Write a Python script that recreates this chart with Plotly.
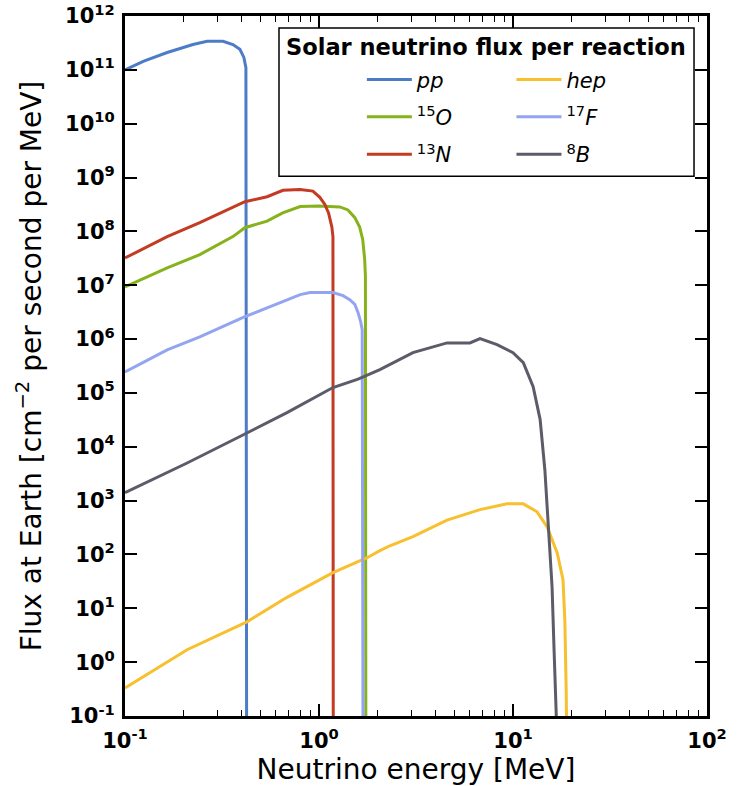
import plotly.graph_objects as go

# ---------------- data ----------------
pp_E = [0.100, 0.125, 0.165, 0.224, 0.265, 0.320, 0.360, 0.391, 0.410, 0.420, 0.424]
pp_F = [1.0e11, 1.45e11, 2.1e11, 2.95e11, 3.4e11, 3.4e11, 2.95e11, 2.4e11, 1.7e11, 1.1e11, 1e-3]

o15_E = [0.100, 0.165, 0.243, 0.360, 0.415, 0.540, 0.650, 0.800, 1.000, 1.280, 1.410, 1.530, 1.620, 1.680, 1.720, 1.735, 1.745]
o15_F = [9.3e6, 2.1e7, 3.7e7, 8.0e7, 1.17e8, 1.55e8, 2.2e8, 2.9e8, 2.95e8, 2.85e8, 2.5e8, 1.8e8, 1.2e8, 7.1e7, 3.0e7, 1.45e7, 1e-3]

n13_E = [0.100, 0.165, 0.243, 0.360, 0.415, 0.540, 0.652, 0.798, 0.930, 1.010, 1.070, 1.120, 1.165, 1.180, 1.185]
n13_F = [3.2e7, 8.0e7, 1.45e8, 2.75e8, 3.55e8, 4.4e8, 5.8e8, 6.0e8, 5.6e8, 4.3e8, 3.2e8, 2.2e8, 1.2e8, 8.0e7, 1e-3]

hep_E = [0.100, 0.209, 0.425, 0.684, 1.180, 1.770, 2.060, 2.320, 3.050, 4.570, 6.760, 9.310, 11.30, 13.30, 15.00, 16.90, 18.10, 18.50, 18.80, 19.00]
hep_F = [0.33, 1.7, 5.6, 16.0, 46.0, 87.0, 118.0, 145.0, 214.0, 435.0, 680.0, 870.0, 870.0, 620.0, 325.0, 107.0, 34.0, 6.0, 0.3, 0.01]

f17_E = [0.100, 0.165, 0.243, 0.360, 0.415, 0.540, 0.800, 0.900, 1.180, 1.330, 1.440, 1.530, 1.590, 1.640, 1.670, 1.690]
f17_F = [2.45e5, 6.3e5, 1.1e6, 2.1e6, 2.6e6, 3.8e6, 6.7e6, 7.3e6, 7.3e6, 6.4e6, 5.4e6, 4.4e6, 3.1e6, 2.1e6, 1.5e6, 1e-3]

b8_E = [0.100, 0.209, 0.425, 0.684, 1.180, 1.590, 2.060, 3.050, 4.570, 6.000, 6.760, 8.270, 10.00, 11.30, 12.70, 13.80, 14.60, 15.10, 15.90, 16.30, 16.70, 16.80]
b8_F = [1.4e3, 5.0e3, 1.8e4, 4.3e4, 1.26e5, 1.8e5, 2.7e5, 5.6e5, 8.5e5, 8.5e5, 1.02e6, 7.9e5, 5.6e5, 3.65e5, 1.3e5, 3.2e4, 3.7e3, 4.3e2, 25.0, 1.5, 0.11, 0.01]

names = ["<i>pp</i>", "<sup>15</sup><i>O</i>", "<sup>13</sup><i>N</i>",
         "<i>hep</i>", "<sup>17</sup><i>F</i>", "<sup>8</sup><i>B</i>"]
colors = ["#4C7CC6", "#86B31C", "#C23B22", "#F8BF2E", "#93A5F0", "#5B5B69"]

x_tickvals = [0.1, 1, 10, 100]
x_ticktext = ["<b>10<sup>-1</sup></b>", "<b>10<sup>0</sup></b>", "<b>10<sup>1</sup></b>", "<b>10<sup>2</sup></b>"]
x_minorvals = [0.2, 0.3, 0.4, 0.5, 0.6, 0.7, 0.8, 0.9, 2, 3, 4, 5, 6, 7, 8, 9,
               20, 30, 40, 50, 60, 70, 80, 90]
y_exps = list(range(-1, 13))
y_tickvals = [10.0 ** e for e in y_exps]
y_ticktext = ["<b>10<sup>%d</sup></b>" % e for e in y_exps]

legend_title = "<b>Solar neutrino flux per reaction</b>"
x_title = "Neutrino energy [MeV]"
y_title = "Flux at Earth [cm<sup>\u22122</sup> per second per MeV]"

# ---------------- figure ----------------
series = [(pp_E, pp_F), (o15_E, o15_F), (n13_E, n13_F), (hep_E, hep_F), (f17_E, f17_F), (b8_E, b8_F)]
legend_ids = ["legend", "legend", "legend", "legend2", "legend2", "legend2"]

fig = go.Figure()
for i, (E, F) in enumerate(series):
    fig.add_trace(go.Scatter(
        x=E, y=F, mode="lines", name=names[i],
        line=dict(color=colors[i], width=3),
        legend=legend_ids[i], legendgroup="g%d" % i,
    ))

axis_common = dict(
    type="log", showline=True, linewidth=3, linecolor="black", mirror="ticks",
    ticks="inside", tickwidth=1.5, tickcolor="black", ticklen=12, automargin=False,
    ticklabeloverflow="allow",
    showgrid=False, zeroline=False, tickfont=dict(size=21, color="black"),
)

fig.update_layout(
    width=741, height=786, autosize=False,
    margin=dict(l=125, r=34, t=16, b=70),
    paper_bgcolor="white", plot_bgcolor="white",
    font=dict(family="DejaVu Sans", color="black"),
    xaxis=dict(axis_common, range=[-1, 2], tickmode="array",
               tickvals=x_tickvals, ticktext=x_ticktext, ticklabelstandoff=4,
               minor=dict(ticks="inside", ticklen=6, tickwidth=1.2, tickcolor="black",
                          tickmode="array", tickvals=x_minorvals, showgrid=False),
               title=dict(text=x_title, font=dict(size=28), standoff=6)),
    yaxis=dict(axis_common, range=[-1, 12], tickmode="array",
               tickvals=y_tickvals, ticktext=y_ticktext, ticklabelstandoff=3,
               title=dict(text=y_title, font=dict(size=28), standoff=16)),
    legend=dict(x=0.407, y=0.938, xanchor="left", yanchor="top",
                bgcolor="rgba(0,0,0,0)", borderwidth=0, tracegroupgap=7,
                itemwidth=45, font=dict(size=21, color="black")),
    legend2=dict(x=0.664, y=0.938, xanchor="left", yanchor="top",
                 bgcolor="rgba(0,0,0,0)", borderwidth=0, tracegroupgap=7,
                 itemwidth=45, font=dict(size=21, color="black")),
    shapes=[dict(type="rect", xref="paper", yref="paper",
                 x0=0.2646, x1=0.9777, y0=0.771, y1=0.983,
                 line=dict(color="black", width=1.5), fillcolor="white", layer="above")],
    annotations=[dict(text=legend_title, xref="paper", yref="paper",
                      x=0.621, y=0.956, xanchor="center", yanchor="middle",
                      showarrow=False, font=dict(size=22.5, color="black"))],
    showlegend=True,
)

# remove the default 8px page margin so the figure sits at the window origin
fig.write_html("out.html", config={"displayModeBar": False},
               post_script="document.body.style.margin='0px';document.body.style.overflow='hidden';")
